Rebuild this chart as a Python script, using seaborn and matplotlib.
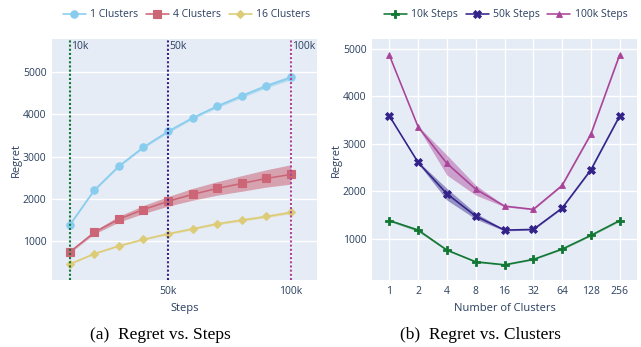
import numpy as np
import pandas as pd
import matplotlib
matplotlib.use("Agg")
import matplotlib.pyplot as plt
from matplotlib.ticker import FixedLocator, NullLocator
import seaborn as sns

# ---- data: regret vs. training steps ----
steps = [10000, 20000, 30000, 40000, 50000, 60000, 70000, 80000, 90000, 100000]
regret_c1 = [1380, 2205, 2773, 3222, 3593, 3915, 4190, 4435, 4671, 4870]
regret_c4 = [740, 1206, 1520, 1747, 1940, 2106, 2246, 2364, 2482, 2577]
regret_c16 = [455, 700, 887, 1040, 1173, 1290, 1410, 1497, 1584, 1680]
spread_c1 = [20, 20, 25, 25, 30, 30, 35, 40, 45, 50]
spread_c4 = [20, 40, 70, 95, 115, 140, 160, 185, 205, 230]
spread_c16 = [10, 12, 15, 18, 20, 22, 24, 26, 28, 30]

# ---- data: regret vs. number of clusters ----
clusters = [1, 2, 4, 8, 16, 32, 64, 128, 256]
regret_10k = [1390, 1189, 769, 523, 460, 573, 790, 1078, 1390]
low_10k = [1370, 1160, 750, 508, 448, 560, 775, 1062, 1372]
high_10k = [1410, 1218, 788, 538, 472, 586, 805, 1094, 1408]
regret_50k = [3590, 2611, 1952, 1483, 1189, 1203, 1651, 2456, 3590]
low_50k = [3578, 2590, 1820, 1420, 1172, 1188, 1638, 2442, 3578]
high_50k = [3602, 2632, 2065, 1545, 1205, 1218, 1664, 2470, 3602]
regret_100k = [4866, 3359, 2590, 2050, 1693, 1624, 2128, 3206, 4875]
low_100k = [4852, 3342, 2345, 1924, 1678, 1610, 2112, 3190, 4860]
high_100k = [4880, 3376, 2765, 2134, 1708, 1638, 2144, 3222, 4890]

marker_steps = [10000, 50000, 100000]
marker_labels = ["10k", "50k", "100k"]

BG = "#E5ECF6"
FONT_C = "#2a3f5f"
sky, rose, sand = "#88CCEE", "#CC6677", "#DDCC77"
green, indigo, purple = "#117733", "#332288", "#AA4499"

sns.set_theme(style="darkgrid")
plt.rcParams["font.family"] = ["Open Sans", "DejaVu Sans"]
plt.rcParams["text.color"] = FONT_C
plt.rcParams["axes.labelcolor"] = FONT_C
plt.rcParams["xtick.color"] = FONT_C
plt.rcParams["ytick.color"] = FONT_C

fig = plt.figure(figsize=(6.41, 3.47), dpi=100)
W, H = 641, 347
ax1 = fig.add_axes([52 / W, 1 - 280 / H, 265 / W, 241 / H])
ax2 = fig.add_axes([372 / W, 1 - 280 / H, 265 / W, 241 / H])

for ax in (ax1, ax2):
    ax.set_facecolor(BG)
    ax.grid(True, color="white", linewidth=1.0)
    for s in ax.spines.values():
        s.set_visible(False)
    ax.tick_params(length=0, labelsize=7.5, pad=4)

# ---- left panel ----
left_series = [
    ("1 Clusters", regret_c1, spread_c1, sky, "o", 5.3),
    ("4 Clusters", regret_c4, spread_c4, rose, "s", 5.8),
    ("16 Clusters", regret_c16, spread_c16, sand, "D", 4.3),
]
for name, vals, spr, col, mk, ms in left_series:
    v = np.asarray(vals, float)
    s = np.asarray(spr, float)
    ax1.fill_between(steps, v - s, v + s, color=col, alpha=0.55, linewidth=0, zorder=2)
    sns.lineplot(x=steps, y=vals, ax=ax1, color=col, marker=mk, markersize=ms,
                 markeredgecolor=col, markeredgewidth=0.8, linewidth=1.15,
                 label=name, zorder=3)

for st, lab, col in zip(marker_steps, marker_labels, [green, indigo, purple]):
    ax1.axvline(st, color=col, linestyle=(0, (1.0, 1.0)), linewidth=1.5, zorder=4)
    ax1.text(st + 600, 0.968, lab, transform=ax1.get_xaxis_transform(),
             fontsize=7.5, ha="left", va="center", color=FONT_C)

ax1.set_xlim(2800, 110600)
ax1.set_ylim(80, 5780)
ax1.xaxis.set_major_locator(FixedLocator([50000, 100000]))
ax1.set_xticklabels(["50k", "100k"])
ax1.yaxis.set_major_locator(FixedLocator([1000, 2000, 3000, 4000, 5000]))
ax1.set_xlabel("Steps", fontsize=8)
ax1.set_ylabel("Regret", fontsize=8)
ax1.xaxis.set_label_coords(0.5, -0.095)
ax1.yaxis.set_label_coords(-0.115, 0.5)

# ---- right panel ----
right_series = [
    ("10k Steps", regret_10k, low_10k, high_10k, green, "P", 5.8),
    ("50k Steps", regret_50k, low_50k, high_50k, indigo, "X", 5.5),
    ("100k Steps", regret_100k, low_100k, high_100k, purple, "^", 3.8),
]
for name, vals, lo, hi, col, mk, ms in right_series:
    ax2.fill_between(clusters, lo, hi, color=col, alpha=0.45, linewidth=0, zorder=2)
    sns.lineplot(x=clusters, y=vals, ax=ax2, color=col, marker=mk, markersize=ms,
                 markeredgecolor=col, markeredgewidth=0.6, linewidth=1.15,
                 label=name, zorder=3)

ax2.set_xscale("log", base=2)
ax2.set_xlim(2 ** -0.6, 2 ** 8.6)
ax2.set_ylim(140, 5204)
ax2.xaxis.set_major_locator(FixedLocator(clusters))
ax2.xaxis.set_minor_locator(NullLocator())
ax2.set_xticklabels([str(c) for c in clusters])
ax2.yaxis.set_major_locator(FixedLocator([1000, 2000, 3000, 4000, 5000]))
ax2.set_xlabel("Number of Clusters", fontsize=8)
ax2.set_ylabel("Regret", fontsize=8)
ax2.xaxis.set_label_coords(0.5, -0.095)
ax2.yaxis.set_label_coords(-0.115, 0.5)

for ax, right_edge in ((ax1, 0.975), (ax2, 0.965)):
    ax.legend(loc="center right", bbox_to_anchor=(right_edge, 1.10), ncol=3,
              frameon=False, fontsize=7.5, handlelength=2.2, handletextpad=0.45,
              columnspacing=0.7, borderaxespad=0, borderpad=0)

fig.text(160 / W, 1 - 335 / H, "(a)  Regret vs. Steps", ha="center", va="center",
         fontsize=12.5, color="black", family=["Liberation Serif", "DejaVu Serif"])
fig.text(480 / W, 1 - 335 / H, "(b)  Regret vs. Clusters", ha="center", va="center",
         fontsize=12.5, color="black", family=["Liberation Serif", "DejaVu Serif"])

fig.savefig("out.png", dpi=100, facecolor="white")
